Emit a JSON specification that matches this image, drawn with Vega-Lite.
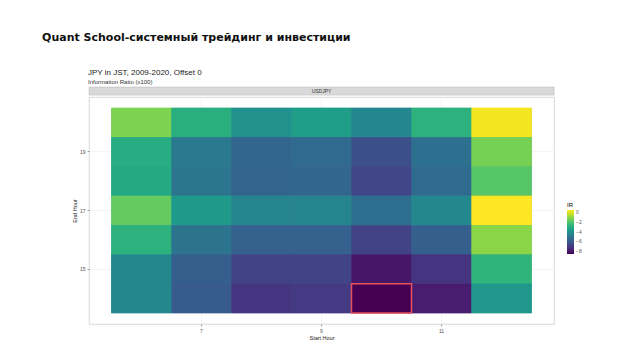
{
  "$schema": "https://vega.github.io/schema/vega-lite/v6.json",
  "background": "white",
  "padding": {"left": 42, "top": 31, "right": 5, "bottom": 5},
  "title": {"text": "Quant School-системный трейдинг и инвестиции", "anchor": "start", "font": "DejaVu Sans", "fontSize": 11, "fontWeight": "bold", "color": "#111111", "offset": 26, "dx": -30},
  "config": {"font": "Liberation Sans", "view": {"stroke": null}},
  "datasets": {
    "ir": [
      {"start": 6, "end": 20, "ir": -1.3}, {"start": 7, "end": 20, "ir": -2.9}, {"start": 8, "end": 20, "ir": -4.1}, {"start": 9, "end": 20, "ir": -3.6}, {"start": 10, "end": 20, "ir": -4.5}, {"start": 11, "end": 20, "ir": -2.8}, {"start": 12, "end": 20, "ir": 0.35},
      {"start": 6, "end": 19, "ir": -3.0}, {"start": 7, "end": 19, "ir": -5.0}, {"start": 8, "end": 19, "ir": -5.7}, {"start": 9, "end": 19, "ir": -5.55}, {"start": 10, "end": 19, "ir": -6.5}, {"start": 11, "end": 19, "ir": -5.35}, {"start": 12, "end": 19, "ir": -1.4},
      {"start": 6, "end": 18, "ir": -3.1}, {"start": 7, "end": 18, "ir": -5.1}, {"start": 8, "end": 18, "ir": -5.8}, {"start": 9, "end": 18, "ir": -5.7}, {"start": 10, "end": 18, "ir": -6.8}, {"start": 11, "end": 18, "ir": -5.5}, {"start": 12, "end": 18, "ir": -1.9},
      {"start": 6, "end": 17, "ir": -1.7}, {"start": 7, "end": 17, "ir": -3.7}, {"start": 8, "end": 17, "ir": -4.6}, {"start": 9, "end": 17, "ir": -4.6}, {"start": 10, "end": 17, "ir": -5.4}, {"start": 11, "end": 17, "ir": -4.4}, {"start": 12, "end": 17, "ir": 0.5},
      {"start": 6, "end": 16, "ir": -2.8}, {"start": 7, "end": 16, "ir": -5.2}, {"start": 8, "end": 16, "ir": -5.9}, {"start": 9, "end": 16, "ir": -5.9}, {"start": 10, "end": 16, "ir": -6.9}, {"start": 11, "end": 16, "ir": -5.95}, {"start": 12, "end": 16, "ir": -1.1},
      {"start": 6, "end": 15, "ir": -4.4}, {"start": 7, "end": 15, "ir": -6.0}, {"start": 8, "end": 15, "ir": -6.9}, {"start": 9, "end": 15, "ir": -6.9}, {"start": 10, "end": 15, "ir": -8.2}, {"start": 11, "end": 15, "ir": -7.3}, {"start": 12, "end": 15, "ir": -2.7},
      {"start": 6, "end": 14, "ir": -4.4}, {"start": 7, "end": 14, "ir": -6.1}, {"start": 8, "end": 14, "ir": -7.3}, {"start": 9, "end": 14, "ir": -7.2}, {"start": 10, "end": 14, "ir": -8.7}, {"start": 11, "end": 14, "ir": -8.0}, {"start": 12, "end": 14, "ir": -3.8}
    ],
    "hl": [{"start": 10, "end": 14}]
  },
  "vconcat": [
    {
      "title": {"text": "JPY in JST, 2009-2020, Offset 0", "subtitle": "Information Ratio (x100)", "anchor": "start", "fontSize": 8, "fontWeight": "normal", "color": "#222222", "subtitleFontSize": 6, "subtitleColor": "#333333", "subtitlePadding": 2, "offset": 2, "dx": 16},
      "spacing": 0,
      "vconcat": [
        {
          "width": 465,
          "height": 8,
          "view": {"fill": "#d9d9d9", "stroke": "#bdbdbd", "strokeWidth": 0.6},
          "data": {"values": [{"panel": "USDJPY"}]},
          "mark": {"type": "text", "fontSize": 5, "color": "#333333", "baseline": "middle", "align": "center"},
          "encoding": {"text": {"field": "panel"}}
        },
        {
          "width": 465,
          "height": 227,
          "view": {"stroke": "#cfcfcf", "strokeWidth": 0.8},
          "resolve": {"legend": {"stroke": "independent", "color": "independent"}},
          "encoding": {
            "x": {"field": "start", "type": "ordinal", "title": "Start Hour",
                  "scale": {"paddingInner": 0, "paddingOuter": 0.375},
                  "axis": {"values": [7, 9, 11], "zindex": 0, "labelAngle": 0, "labelFontSize": 5, "labelColor": "#555555", "titleFontSize": 5.5, "titleFontWeight": "normal", "titleColor": "#222222", "titlePadding": 2, "tickSize": 2, "tickColor": "#999999", "domain": false, "grid": true, "gridColor": "#ededed", "gridWidth": 0.6, "labelPadding": 2}},
            "y": {"field": "end", "type": "ordinal", "sort": "descending", "title": "End Hour",
                  "scale": {"paddingInner": 0, "paddingOuter": 0.375},
                  "axis": {"values": [15, 17, 19], "zindex": 0, "labelFontSize": 5, "labelColor": "#555555", "titleFontSize": 5.5, "titleFontWeight": "normal", "titleColor": "#222222", "titlePadding": 2, "tickSize": 2, "tickColor": "#999999", "domain": false, "grid": true, "gridColor": "#ededed", "gridWidth": 0.6, "labelPadding": 2}}
          },
          "layer": [
            {
              "data": {"name": "ir"},
              "mark": {"type": "rect", "strokeWidth": 0.7},
              "encoding": {
                "stroke": {"field": "ir", "type": "quantitative", "scale": {"scheme": "viridis"}, "legend": null}
              }
            },
            {
              "data": {"name": "ir"},
              "mark": {"type": "rect"},
              "encoding": {
                "color": {"field": "ir", "type": "quantitative", "title": "IR",
                          "scale": {"scheme": "viridis"},
                          "legend": {"values": [0, -2, -4, -6, -8], "orient": "none", "legendX": 478, "legendY": 105, "gradientLength": 44, "gradientThickness": 7, "titleFontSize": 6, "titleFontWeight": "normal", "labelFontSize": 5, "labelColor": "#555555", "titlePadding": 2}}
              }
            },
            {
              "data": {"name": "hl"},
              "mark": {"type": "rect", "fillOpacity": 0, "stroke": "#e8505b", "strokeWidth": 1.5}
            }
          ]
        }
      ]
    }
  ]
}
